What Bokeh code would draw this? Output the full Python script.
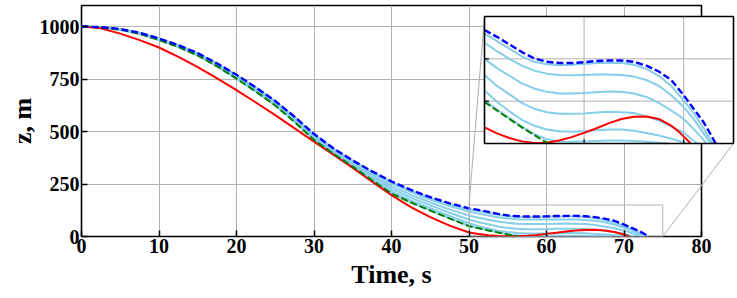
import numpy as np
from bokeh.plotting import figure
from bokeh.models import Range1d
from bokeh.embed import file_html
from bokeh.resources import INLINE

# ---------------- data ----------------
x_ticks = [0, 10, 20, 30, 40, 50, 60, 70, 80]
y_ticks = [0, 250, 500, 750, 1000]
inset_x_grid = [60, 70]
inset_y_grid = [50, 100]

t_common = [0, 2.5, 5, 7.5, 10, 12.5, 15, 17.5, 20, 22.5, 25, 27.5, 30,
            32.5, 35, 37.5, 40, 42.5, 45, 47.5]
t_tail = [50, 51.25, 52.5, 53.75, 55, 56.25, 57.5, 58.75, 60, 61.25, 62.5,
          63.75, 65, 66.25, 67.5, 68.75]

red_t = t_common + t_tail + [69.5, 70.2, 70.7]
red_z = [1000, 992, 966, 935, 900, 855, 806, 753, 697, 638, 578, 515, 452, 390,
         327, 261, 197, 140, 92, 52] + \
        [19, 12, 6.5, 2.5, 0.6, 0.8, 3.5, 7.5, 12.5, 18, 24, 29, 31.5, 32, 29,
         21] + [14, 6, 0]

green_t = t_common + [50, 51.25, 52.5, 53.75, 55, 55.8, 56.4]
green_z = [1000, 996, 985, 965, 936, 902, 862, 810, 752, 690, 624, 545, 460,
           394, 333, 268, 205, 162, 124, 86] + [49, 39, 29, 19, 10, 4, 0]

blue_t = t_common + t_tail + [70, 71, 72, 72.6, 73.2]
blue_z = [1000, 997, 988, 970, 943, 911, 873, 824, 770, 710, 645, 570, 488,
          420, 362, 310, 262, 222, 187, 158] + \
         [134, 126, 117, 108, 100.5, 96.5, 95, 95, 96, 97.5, 98, 98, 96.5, 92,
          85, 75] + [57, 41, 25, 13, 0]

lb1_t = t_common + t_tail + [70, 71, 72, 72.9]
lb1_z = [1000, 997, 988, 970, 943, 911, 872, 823, 769, 709, 644, 569, 487,
         419, 361, 308, 259, 219, 184, 154] + \
        [130, 121, 112, 103, 96.5, 93.5, 92.5, 93, 94, 95, 95.5, 95, 93, 88,
         80, 68] + [51, 36, 18, 0]

lb2_t = t_common + t_tail + [70, 71, 72, 72.7]
lb2_z = [1000, 997, 987, 969, 942, 909, 871, 821, 767, 706, 641, 566, 483,
         414, 357, 302, 252, 211, 176, 145] + \
        [119, 109, 100, 92, 86, 82.5, 81, 80.5, 81, 81.5, 81.5, 81, 79, 75,
         68, 57] + [43, 29, 12, 0]

lb3_t = t_common + t_tail + [70, 71, 71.8, 72.3]
lb3_z = [1000, 997, 987, 968, 940, 907, 869, 818, 763, 702, 637, 560, 477,
         408, 350, 293, 239, 198, 162, 129] + \
        [100, 89, 80, 71, 65, 61, 59, 59, 59.5, 60.5, 61.5, 61, 59, 55, 48,
         39] + [29, 17, 7, 0]

lb4_t = t_common + t_tail + [70, 70.8, 71.4]
lb4_z = [1000, 996, 986, 967, 939, 905, 866, 815, 759, 698, 632, 555, 471,
         403, 344, 284, 227, 185, 148, 113] + \
        [81, 68, 58, 48, 41, 37, 35, 35, 35.5, 36.5, 37.5, 37, 36, 32, 27,
         20] + [13, 5, 0]

lb5_t = t_common + t_tail + [69.5, 70.3]
lb5_z = [1000, 996, 985, 966, 937, 904, 864, 812, 755, 693, 628, 549, 465,
         398, 338, 275, 215, 172, 135, 98] + \
        [63, 49, 38, 28, 21, 16.5, 14.5, 14, 14.5, 15.5, 16.5, 16.5, 15, 12.5,
         9.5, 5.5] + [3, 0]

lb6_t = t_common + [50, 51.25, 52.5, 53.75, 55, 56.25, 57.5, 58.75, 60, 61.25,
                    62.5, 63.75, 65, 66.25, 67.5, 68.4]
lb6_z = [1000, 996, 985, 965, 936, 902, 862, 810, 752, 690, 624, 546, 461,
         394, 334, 269, 206, 163, 125, 87] + \
        [51, 40, 30, 20, 11, 5, 2.5, 2, 2.5, 3, 3.5, 3.5, 3, 2, 1, 0]

light_series = [(lb1_t, lb1_z), (lb2_t, lb2_z), (lb3_t, lb3_z),
                (lb4_t, lb4_z), (lb5_t, lb5_z), (lb6_t, lb6_z)]

# zoomed window shown in the inset
zoom_x = (50, 75)
zoom_y = (0, 150)

# ---------------- styling ----------------
FONT = "Liberation Serif"
GRID = "#b0b0b0"
RED, GREEN, BLUE, SKY = "#ff0000", "#008000", "#0000ff", "#87ceeb"

p = figure(width=737, height=298,
           min_border_left=81, min_border_right=36, min_border_top=5,
           min_border_bottom=62,
           x_range=Range1d(0, 80), y_range=Range1d(0, 1100),
           output_backend="svg", toolbar_location=None)

p.background_fill_color = "white"
p.border_fill_color = "white"
p.outline_line_color = "black"
p.outline_line_width = 1.6
p.outline_line_alpha = 1.0

p.xaxis.ticker = x_ticks
p.yaxis.ticker = y_ticks
p.xaxis.axis_label = "Time, s"
p.yaxis.axis_label = "z, m"
for ax in (p.xaxis[0], p.yaxis[0]):
    ax.axis_line_color = None
    ax.major_tick_in = 6
    ax.major_tick_out = 0
    ax.major_tick_line_width = 1.5
    ax.major_tick_line_color = "black"
    ax.minor_tick_line_color = None
    ax.major_label_text_font = FONT
    ax.major_label_text_font_style = "bold"
    ax.major_label_text_font_size = "20px"
    ax.major_label_text_color = "black"
    ax.axis_label_text_font = FONT
    ax.axis_label_text_font_style = "bold"
    ax.axis_label_text_font_size = "26px"
    ax.axis_label_text_color = "black"
p.xaxis.major_label_standoff = 2
p.yaxis.major_label_standoff = 2
p.xaxis.axis_label_standoff = 4
p.yaxis.axis_label_standoff = 0

p.xgrid.grid_line_color = GRID
p.ygrid.grid_line_color = GRID
p.xgrid.grid_line_width = 1
p.ygrid.grid_line_width = 1


def draw(target, src_filter=None, level="glyph"):
    def pick(t, z):
        t = np.asarray(t, float)
        z = np.asarray(z, float)
        if src_filter is not None:
            m = src_filter(t)
            t, z = t[m], z[m]
        return t, z
    for t, z in light_series:
        tt, zz = pick(t, z)
        target.line(tt, zz, line_color=SKY, line_width=2, level=level)
    tt, zz = pick(red_t, red_z)
    target.line(tt, zz, line_color=RED, line_width=2, level=level)
    tt, zz = pick(green_t, green_z)
    target.line(tt, zz, line_color=GREEN, line_width=2, line_dash="7 3", level=level)
    tt, zz = pick(blue_t, blue_z)
    target.line(tt, zz, line_color=BLUE, line_width=2.4, line_dash="7 3", level=level)


draw(p)

# rectangle marking the zoomed window
p.quad(left=[zoom_x[0]], right=[zoom_x[1]], bottom=[zoom_y[0]], top=[zoom_y[1]],
       fill_color=None, line_color=GRID, line_width=1)

# inset placement (in main data units)
ins_x = Range1d(52.0, 84.13)
ins_y = Range1d(442.9, 1047.6)

# connector lines
p.segment(x0=[zoom_x[0], zoom_x[1]], y0=[zoom_y[1], zoom_y[0]],
          x1=[ins_x.start, ins_x.end], y1=[ins_y.end, ins_y.start],
          line_color=GRID, line_width=1, level="overlay")

sub = p.subplot(x_source=Range1d(*zoom_x), y_source=Range1d(*zoom_y),
                x_target=ins_x, y_target=ins_y)
sub.quad(left=[zoom_x[0]], right=[zoom_x[1]], bottom=[zoom_y[0]], top=[zoom_y[1]],
         fill_color="white", line_color=None, level="overlay")
sub.segment(x0=inset_x_grid, y0=[zoom_y[0]] * 2, x1=inset_x_grid, y1=[zoom_y[1]] * 2,
            line_color=GRID, line_width=1, level="overlay")
sub.segment(x0=[zoom_x[0]] * 2, y0=inset_y_grid, x1=[zoom_x[1]] * 2, y1=inset_y_grid,
            line_color=GRID, line_width=1, level="overlay")
draw(sub, src_filter=lambda t: t >= zoom_x[0], level="overlay")
sub.segment(x0=inset_x_grid, y0=[zoom_y[0]] * 2, x1=inset_x_grid, y1=[5, 5],
            line_color="black", line_width=1.2, level="overlay")
sub.segment(x0=[zoom_x[0]] * 2, y0=inset_y_grid, x1=[50.45] * 2, y1=inset_y_grid,
            line_color="black", line_width=1.2, level="overlay")
sub.quad(left=[zoom_x[0]], right=[zoom_x[1]], bottom=[zoom_y[0]], top=[zoom_y[1]],
         fill_color=None, line_color="black", line_width=1.6, level="overlay")

open("out.html", "w").write(file_html(p, INLINE))
